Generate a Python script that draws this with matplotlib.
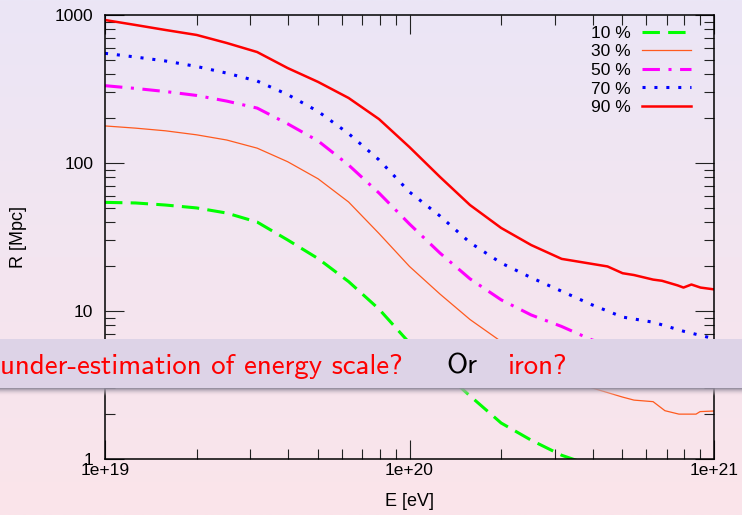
import numpy as np
import matplotlib.pyplot as plt
from matplotlib.patches import Rectangle
from matplotlib.ticker import LogLocator, FuncFormatter, NullFormatter
from matplotlib.colors import LinearSegmentedColormap

# energy grid [eV]
energy = [1.00e19, 1.26e19, 1.58e19, 2.00e19, 2.51e19, 3.16e19, 3.98e19,
          5.01e19, 6.31e19, 7.94e19, 1.00e20, 1.26e20, 1.58e20, 2.00e20,
          2.51e20, 3.16e20, 3.98e20, 5.01e20, 6.31e20, 7.94e20, 1.00e21]

# horizon distance R [Mpc] for each fraction
energy_90 = energy[:16] + [4.47e20, 5.01e20, 5.46e20, 6.31e20, 6.75e20,
                           7.59e20, 7.94e20, 8.43e20, 9.03e20, 1.0e21]
r_90 = [925, 856, 792, 733, 647, 562, 438, 353, 275, 198, 128, 80.4, 52.0,
        36.4, 27.9, 22.5, 20.0, 18.0, 17.5, 16.3, 16.0, 14.9, 14.4, 15.1, 14.4, 14.0]
r_70 = [551, 520, 489, 449, 405, 358, 290, 223, 158, 105, 63.7, 43.8, 29.0,
        21.1, 16.8, 13.6, 11.0, 9.1, 8.4, 7.3, 6.5]
r_50 = [333, 319, 304, 286, 262, 235, 184, 141, 96.9, 62.7, 38.7, 24.6, 16.5,
        11.9, 9.4, 7.86, 6.37, 5.62, 5.04, 4.52, 4.12]
energy_30 = energy[:18] + [5.46e20, 6.31e20, 6.90e20, 7.67e20, 8.73e20, 9.0e20, 1.0e21]
r_30 = [178, 172, 165, 155, 143, 126, 102, 78.2, 54.5, 33.4, 20.0, 13.0, 8.76,
        6.22, 4.67, 3.64, 3.02, 2.62, 2.50, 2.44, 2.12, 2.01, 2.01, 2.09, 2.11]
energy_10 = energy[:17]
r_10 = [54.2, 53.7, 52.0, 49.7, 45.9, 39.9, 30.2, 22.6, 15.8, 10.3, 6.08,
        4.06, 2.67, 1.75, 1.34, 1.06, 0.90]

tick_font = "Liberation Sans"

fig = plt.figure(figsize=(7.42, 5.15), dpi=100)

# background gradient lavender -> pink
bg = fig.add_axes([0, 0, 1, 1], zorder=-10)
bg_cmap = LinearSegmentedColormap.from_list("bg", ["#ebe6f6", "#fbe4ea"])
bg.imshow(np.linspace(0, 1, 256).reshape(-1, 1), aspect="auto", cmap=bg_cmap,
          extent=[0, 1, 0, 1])
bg.axis("off")

ax = fig.add_axes([105 / 742, 56 / 515, 609 / 742, 444 / 515], zorder=1)
ax.set_facecolor("none")

ax.plot(energy_10, r_10, color="#00ff00", lw=2.2, dashes=(5.7, 2.7), label="10 %")
ax.plot(energy_30, r_30, color="#ff5a1e", lw=0.9, label="30 %")
ax.plot(energy, r_50, color="#ff00ff", lw=2.2, dashes=(5.7, 2.8, 1, 2.8), label="50 %")
ax.plot(energy, r_70, color="#0000ff", lw=2.2, dashes=(1, 2.9), label="70 %")
ax.plot(energy_90, r_90, color="#ff0000", lw=1.8, label="90 %")

ax.set_xscale("log")
ax.set_yscale("log")
ax.set_xlim(1e19, 1e21)
ax.set_ylim(1, 1000)

ax.xaxis.set_major_locator(LogLocator(base=10, numticks=10))
ax.xaxis.set_minor_locator(LogLocator(base=10, subs=np.arange(2, 10), numticks=100))
ax.yaxis.set_major_locator(LogLocator(base=10, numticks=10))
ax.yaxis.set_minor_locator(LogLocator(base=10, subs=np.arange(2, 10), numticks=100))
ax.xaxis.set_major_formatter(FuncFormatter(lambda v, p: f"{v:.0e}"))
ax.yaxis.set_major_formatter(FuncFormatter(lambda v, p: f"{v:g}"))
ax.xaxis.set_minor_formatter(NullFormatter())
ax.yaxis.set_minor_formatter(NullFormatter())

ax.tick_params(which="both", direction="in", top=True, right=True, color="#222222",
               width=0.8, labelsize=12.5)
ax.tick_params(which="major", length=14)
ax.tick_params(which="minor", length=7)
ax.tick_params(axis="x", pad=3)
ax.tick_params(axis="y", pad=8.5)
for lab in ax.get_xticklabels() + ax.get_yticklabels():
    lab.set_fontfamily(tick_font)
for s in ax.spines.values():
    s.set_linewidth(1.1)

ax.set_xlabel("E [eV]", fontsize=13, family=tick_font, labelpad=11)
ax.set_ylabel("R [Mpc]", fontsize=13, family=tick_font, labelpad=20)

ax.legend(loc="upper right", bbox_to_anchor=(0.970, 0.988), markerfirst=False,
          frameon=False, prop={"family": tick_font, "size": 12.5},
          handlelength=2.8, handletextpad=0.65, labelspacing=0.2,
          borderaxespad=0.0, borderpad=0.3)

# overlay banner
b_bot, b_top = (515 - 388) / 515, (515 - 339) / 515
sh = fig.add_axes([0, b_bot - 8 / 515, 1, 8 / 515], zorder=5)
sh_cmap = LinearSegmentedColormap.from_list(
    "sh", [(0.55, 0.53, 0.6, 1.0), (0.98, 0.89, 0.92, 0.0)])
sh.imshow(np.linspace(0, 1, 64).reshape(-1, 1), aspect="auto", cmap=sh_cmap,
          extent=[0, 1, 0, 1])
sh.axis("off")
fig.patches.append(Rectangle((0, b_bot), 1, b_top - b_bot, transform=fig.transFigure,
                             facecolor="#ddd3e7", edgecolor="none", zorder=6))
ty = (515 - 374) / 515
fig.text(403 / 742, ty, "under-estimation of energy scale?", color="#ff0000",
         family="cmss10", fontsize=20.8, ha="right", va="baseline", zorder=7)
fig.text(446 / 742, ty, "Or", color="black", family="cmss10", fontsize=20.8,
         ha="left", va="baseline", zorder=7)
fig.text(508 / 742, ty, "iron?", color="#ff0000", family="cmss10", fontsize=20.8,
         ha="left", va="baseline", zorder=7)

fig.savefig("out.png", dpi=100)
